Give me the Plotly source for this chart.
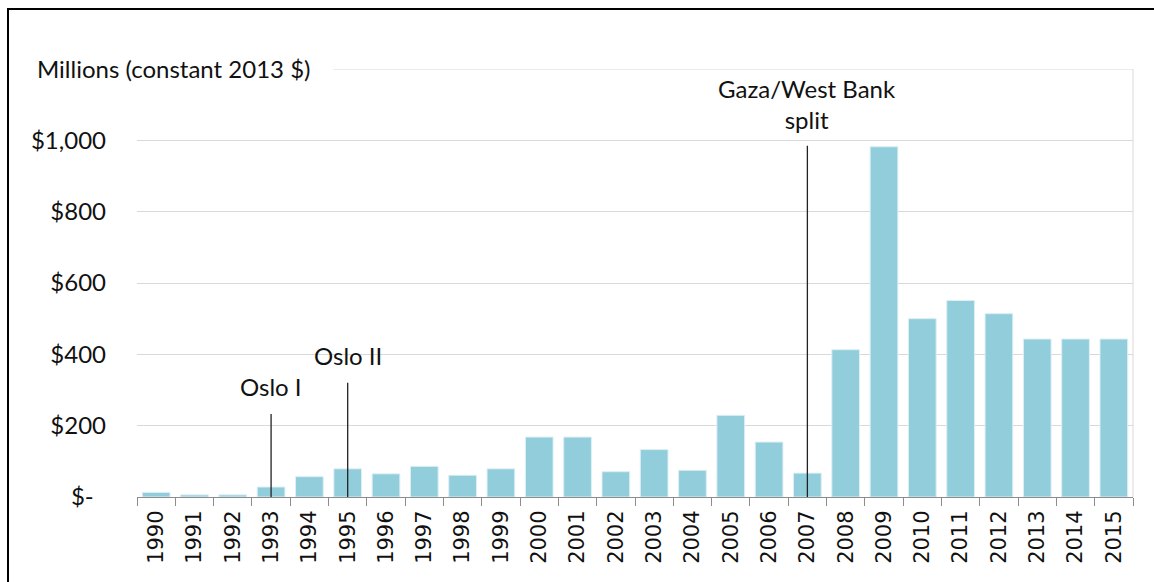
import plotly.graph_objects as go

years = [str(y) for y in range(1990, 2016)]
values = [13, 6, 6, 28, 57, 79, 65, 86, 61, 79, 168, 168, 71, 133, 75, 229,
          154, 67, 413, 982, 500, 551, 514, 443, 443, 443]
ytick_vals = [0, 200, 400, 600, 800, 1000]
ytick_text = ["$-\u00a0\u00a0", "$200", "$400", "$600", "$800", "$1,000"]
event_labels = ["Oslo I", "Oslo II", "Gaza/West Bank<br>split"]
event_years = ["1993", "1995", "2007"]

W, H = 1154, 582
L, R, T, B = 137, 1133, 69, 497

fig = go.Figure()
fig.add_trace(go.Bar(
    x=years, y=values,
    marker=dict(color="#92CDDC", line=dict(color="#DCEFF4", width=1)),
    hoverinfo="x+y",
))

fig.update_layout(
    width=W, height=H,
    margin=dict(l=L, r=W - R, t=T, b=H - B, pad=0),
    paper_bgcolor="white", plot_bgcolor="white",
    bargap=0.277,
    showlegend=False,
    font=dict(family="Lato", color="#262626"),
)
fig.update_xaxes(
    type="category", categoryorder="array", categoryarray=years,
    tickson="boundaries",
    ticks="outside", ticklen=8, tickcolor="#8C8C8C", tickwidth=1,
    showline=True, linecolor="#8C8C8C", linewidth=1,
    showgrid=False, tickangle=-90,
    tickfont=dict(family="DejaVu Sans", size=21, color="#111111"),
    ticklabelstandoff=4,
)
fig.update_yaxes(
    range=[0, 1200], tickvals=ytick_vals, ticktext=ytick_text,
    showgrid=True, gridcolor="#D9D9D9", gridwidth=1,
    zeroline=False, showline=False, ticks="",
    tickfont=dict(family="Lato", size=24, color="#111111"),
    ticklabelstandoff=30,
)

shapes = []
# top gridline (partially hidden by the unit label)
shapes.append(dict(type="line", xref="x domain", yref="y", x0=0.197, x1=1,
                   y0=1200, y1=1200, line=dict(color="#D9D9D9", width=1)))
# right plot-area border
shapes.append(dict(type="line", xref="x domain", yref="y", x0=1, x1=1,
                   y0=0, y1=1200, line=dict(color="#D9D9D9", width=1)))
# event marker lines
tops = [233, 320, 985]
for yr, top in zip(event_years, tops):
    xi = years.index(yr)
    shapes.append(dict(type="line", xref="x", yref="y", x0=xi, x1=xi,
                       y0=0, y1=top, line=dict(color="#222222", width=1.3)))
# outer frame
shapes.append(dict(type="rect", xref="paper", yref="paper",
                   x0=(8 - L) / (R - L), x1=(W + 10 - L) / (R - L),
                   y0=(B - (H + 10)) / (B - T), y1=(B - 9) / (B - T),
                   line=dict(color="black", width=2), fillcolor="rgba(0,0,0,0)"))
fig.update_layout(shapes=shapes)

ann_y = [264, 351, 1012]
annotations = []
for lab, yr, ay in zip(event_labels, event_years, ann_y):
    annotations.append(dict(x=years.index(yr), y=ay, xref="x", yref="y", text=lab,
                            showarrow=False, yanchor="bottom",
                            font=dict(family="Lato", size=24, color="#111111")))
annotations.append(dict(x=(35 - L) / (R - L), y=1.002, xref="paper", yref="paper",
                        text="Millions (constant 2013 $)", showarrow=False,
                        xanchor="left", yanchor="middle",
                        font=dict(family="Lato", size=24, color="#111111")))
fig.update_layout(annotations=annotations)

fig.write_html("out.html", config={"displayModeBar": False},
               post_script="document.body.style.margin='0';")
